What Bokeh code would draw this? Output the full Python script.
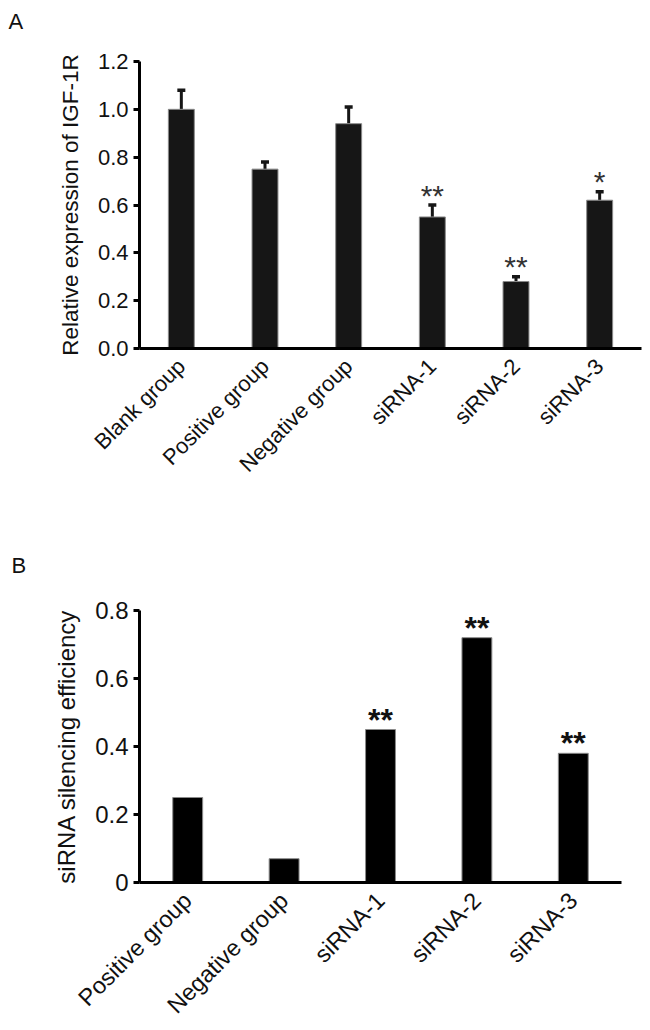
import math
from bokeh.plotting import figure
from bokeh.models import Range1d, FixedTicker, Title
from bokeh.layouts import column
from bokeh.embed import file_html
from bokeh.resources import INLINE
from bokeh.core.properties import value

# ---- Panel A data ----
groups_a = ["Blank group", "Positive group", "Negative group", "siRNA-1", "siRNA-2", "siRNA-3"]
expr_a = [1.00, 0.75, 0.94, 0.55, 0.28, 0.62]
err_a = [0.08, 0.03, 0.07, 0.05, 0.02, 0.035]
stars_a = ["", "", "", "**", "**", "*"]
yticks_a = [0.0, 0.2, 0.4, 0.6, 0.8, 1.0, 1.2]
ytick_labels_a = ["0.0", "0.2", "0.4", "0.6", "0.8", "1.0", "1.2"]

# ---- Panel B data ----
groups_b = ["Positive group", "Negative group", "siRNA-1", "siRNA-2", "siRNA-3"]
eff_b = [0.25, 0.07, 0.45, 0.72, 0.38]
stars_b = ["", "", "**", "**", "**"]
yticks_b = [0.0, 0.2, 0.4, 0.6, 0.8]
ytick_labels_b = ["0", "0.2", "0.4", "0.6", "0.8"]

FONT = "Liberation Sans"


def style(p, ticks, labels, tick_fs, label_fs, x_fs):
    p.grid.visible = False
    p.outline_line_color = None
    p.background_fill_color = "white"
    p.border_fill_color = "white"
    ya = p.yaxis[0]
    ya.ticker = FixedTicker(ticks=ticks)
    ya.major_label_overrides = {t: l for t, l in zip(ticks, labels)}
    ya.axis_line_width = 3
    ya.axis_line_color = "black"
    ya.major_tick_line_width = 3
    ya.major_tick_line_color = "black"
    ya.major_tick_out = 6
    ya.major_tick_in = 0
    ya.minor_tick_line_color = None
    ya.major_label_standoff = 5
    ya.major_label_text_font = FONT
    ya.major_label_text_font_size = tick_fs
    ya.major_label_text_color = "#111111"
    ya.axis_label_text_font = FONT
    ya.axis_label_text_font_size = label_fs
    ya.axis_label_text_font_style = "normal"
    ya.axis_label_text_color = "#111111"
    ya.axis_label_standoff = 12
    xa = p.xaxis[0]
    xa.axis_line_width = 3
    xa.axis_line_color = "black"
    xa.major_tick_line_color = None
    xa.minor_tick_line_color = None
    xa.major_label_orientation = math.pi / 4
    xa.major_label_standoff = 8
    xa.major_label_text_font = FONT
    xa.major_label_text_font_size = x_fs
    xa.major_label_text_color = "#111111"


def panel_title(text, offset, standoff):
    # trailing empty line lifts the panel letter up towards the page top
    return Title(text=text + "\n", align="left", offset=offset, standoff=standoff,
                 text_font=FONT, text_font_size="22px", text_font_style="normal",
                 text_color="#111111")


# ---- Figure A ----
pa = figure(x_range=groups_a, y_range=Range1d(0, 1.2), frame_width=502, frame_height=287,
            output_backend="svg", toolbar_location=None,
            title=panel_title("A", -131, 6),
            min_border_left=139, min_border_right=1, min_border_top=61, min_border_bottom=192)
style(pa, yticks_a, ytick_labels_a, "22px", "22.5px", "22px")
pa.yaxis.axis_label = "Relative expression of IGF-1R"

tops_a = [v + e for v, e in zip(expr_a, err_a)]
pa.segment(x0=groups_a, y0=expr_a, x1=groups_a, y1=tops_a, line_width=3, line_color="#161616")
pa.scatter(x=groups_a, y=tops_a, marker="dash", size=8, line_width=3.5, line_color="#161616")
pa.vbar(x=groups_a, top=expr_a, width=0.31, fill_color="#161616", line_color="#8a8a8a", line_width=1)
pa.text(x=groups_a, y=tops_a, text=stars_a, y_offset=-10, text_align="center", text_baseline="middle",
        text_font=value(FONT), text_font_size="30px", text_color="#333333")

# ---- Figure B ----
pb = figure(x_range=groups_b, y_range=Range1d(0, 0.8), frame_width=482, frame_height=272,
            output_backend="svg", toolbar_location=None,
            title=panel_title("B", -128, 16),
            min_border_left=137, min_border_right=23, min_border_top=70, min_border_bottom=140)
style(pb, yticks_b, ytick_labels_b, "24px", "24px", "23.5px")
pb.yaxis.axis_label = "siRNA silencing efficiency"

pb.vbar(x=groups_b, top=eff_b, width=0.31, fill_color="black", line_color="#8a8a8a", line_width=1)
pb.text(x=groups_b, y=eff_b, text=stars_b, y_offset=-10, text_align="center", text_baseline="middle",
        text_font=value(FONT), text_font_size="32px", text_font_style="bold", text_color="#111111")

layout = column(pa, pb)
open("out.html", "w").write(file_html(layout, INLINE))
